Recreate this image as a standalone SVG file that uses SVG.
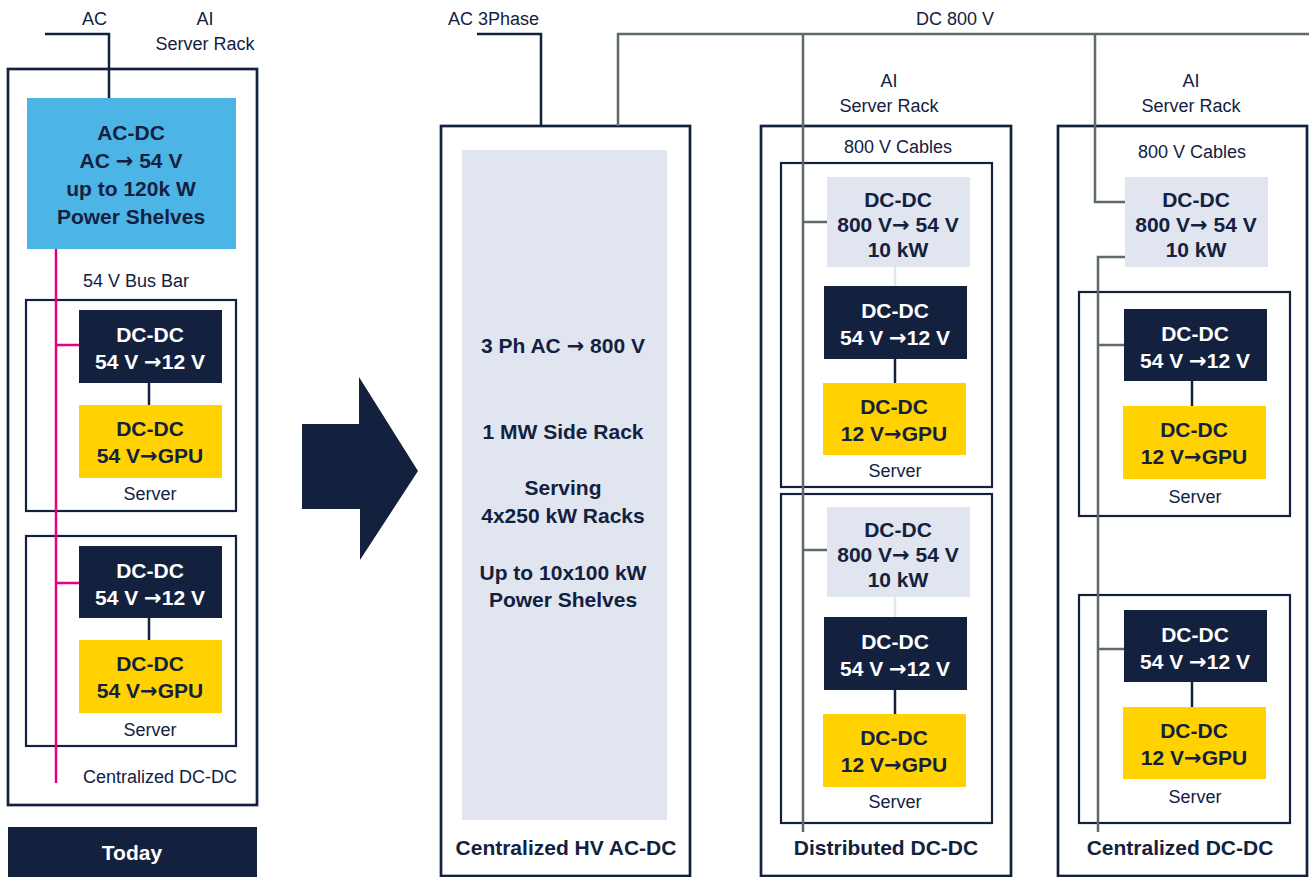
<svg xmlns="http://www.w3.org/2000/svg" width="1311" height="877" viewBox="0 0 1311 877">
<style>
text{font-family:"Liberation Sans",Arial,sans-serif;fill:#13213F;}
.lbl{font-size:18px;text-anchor:middle;}
.lbs{font-size:18px;}
.b{font-size:21px;font-weight:bold;text-anchor:middle;}
.ar{font-family:"DejaVu Sans",sans-serif;font-size:21px;font-weight:bold;}
.w{fill:#FFFFFF;}
.frame{fill:none;stroke:#13213F;stroke-width:2.7;}
.srv{fill:none;stroke:#13213F;stroke-width:2.2;}
.navy{fill:#13213F;}
.yel{fill:#FFD200;}
.lt{fill:#E1E5EF;}
.blue{fill:#4DB4E6;}
.wire{fill:none;stroke:#13213F;stroke-width:2.5;}
.gw{fill:none;stroke:#5E6A6B;stroke-width:2.5;}
.pk{fill:none;stroke:#E5007E;stroke-width:2.5;}
.ltw{fill:none;stroke:#E1E5EF;stroke-width:2.5;}
</style>

<!-- ===== Left panel: Today ===== -->
<g id="left-rack">
<rect class="frame" x="8" y="69" width="249" height="736"/>
<text class="lbs" x="82" y="25">AC</text>
<text class="lbl" x="205" y="25">AI</text>
<text class="lbl" x="205" y="50">Server Rack</text>
<text class="lbl" x="136" y="287">54 V Bus Bar</text>
<text class="lbl" x="160" y="783">Centralized DC-DC</text>
</g>
<g id="left-acdc">
<rect class="blue" x="27" y="98" width="209" height="151"/>
<text class="b" x="131" y="140">AC-DC</text>
<text class="b" x="131" y="168">AC <tspan class="ar">→</tspan> 54 V</text>
<text class="b" x="131" y="196">up to 120k W</text>
<text class="b" x="131" y="224">Power Shelves</text>
</g>
<g id="left-server1">
<rect class="srv" x="26" y="300" width="210" height="211"/>
<rect class="navy" x="79" y="310" width="143" height="73"/>
<text class="b w" x="150" y="342">DC-DC</text>
<text class="b w" x="150" y="369">54 V <tspan class="ar w">→</tspan>12 V</text>
<rect class="yel" x="79" y="405" width="143" height="73"/>
<text class="b" x="150" y="436">DC-DC</text>
<text class="b" x="150" y="463">54 V<tspan class="ar">→</tspan>GPU</text>
<text class="lbl" x="150" y="500">Server</text>
</g>
<g id="left-server2">
<rect class="srv" x="26" y="536" width="210" height="210"/>
<rect class="navy" x="79" y="546" width="143" height="72"/>
<text class="b w" x="150" y="578">DC-DC</text>
<text class="b w" x="150" y="605">54 V <tspan class="ar w">→</tspan>12 V</text>
<rect class="yel" x="79" y="640" width="143" height="73"/>
<text class="b" x="150" y="671">DC-DC</text>
<text class="b" x="150" y="698">54 V<tspan class="ar">→</tspan>GPU</text>
<text class="lbl" x="150" y="736">Server</text>
</g>
<g id="today">
<rect class="navy" x="8" y="827" width="249" height="50"/>
<text class="b w" x="132" y="860">Today</text>
</g>

<!-- ===== Transition arrow ===== -->
<g id="big-arrow">
<polygon class="navy" points="302,424 359,424 359,377 418,471 360,560 360,509 302,509"/>
</g>

<!-- ===== Middle: Centralized HV AC-DC ===== -->
<g id="hv-acdc">
<rect class="frame" x="441" y="126" width="249" height="750"/>
<rect class="lt" x="462" y="150" width="205" height="670"/>
<text class="lbs" x="448" y="25">AC 3Phase</text>
<text class="b" x="563" y="353">3 Ph AC <tspan class="ar">→</tspan> 800 V</text>
<text class="b" x="563" y="439">1 MW Side Rack</text>
<text class="b" x="563" y="495">Serving</text>
<text class="b" x="563" y="523">4x250 kW Racks</text>
<text class="b" x="563" y="580">Up to 10x100 kW</text>
<text class="b" x="563" y="607">Power Shelves</text>
<text class="b" x="566" y="855">Centralized HV AC-DC</text>
</g>

<!-- ===== Distributed DC-DC rack ===== -->
<g id="dist-rack">
<rect class="frame" x="761" y="126" width="250" height="750"/>
<text class="lbl" x="889" y="87">AI</text>
<text class="lbl" x="889" y="112">Server Rack</text>
<text class="lbl" x="898" y="153">800 V Cables</text>
<text class="b" x="886" y="855">Distributed DC-DC</text>
</g>
<g id="dist-server1">
<rect class="srv" x="781" y="163" width="211" height="324"/>
<rect class="lt" x="827" y="177" width="143" height="90"/>
<text class="b" x="898" y="207">DC-DC</text>
<text class="b" x="898" y="232">800 V<tspan class="ar">→</tspan> 54 V</text>
<text class="b" x="898" y="257">10 kW</text>
<rect class="navy" x="824" y="286" width="143" height="73"/>
<text class="b w" x="895" y="318">DC-DC</text>
<text class="b w" x="895" y="345">54 V <tspan class="ar w">→</tspan>12 V</text>
<rect class="yel" x="823" y="383" width="143" height="72"/>
<text class="b" x="894" y="414">DC-DC</text>
<text class="b" x="894" y="441">12 V<tspan class="ar">→</tspan>GPU</text>
<text class="lbl" x="895" y="477">Server</text>
</g>
<g id="dist-server2">
<rect class="srv" x="781" y="494" width="211" height="329"/>
<rect class="lt" x="827" y="507" width="143" height="90"/>
<text class="b" x="898" y="537">DC-DC</text>
<text class="b" x="898" y="562">800 V<tspan class="ar">→</tspan> 54 V</text>
<text class="b" x="898" y="587">10 kW</text>
<rect class="navy" x="824" y="617" width="143" height="73"/>
<text class="b w" x="895" y="649">DC-DC</text>
<text class="b w" x="895" y="676">54 V <tspan class="ar w">→</tspan>12 V</text>
<rect class="yel" x="823" y="714" width="143" height="73"/>
<text class="b" x="894" y="745">DC-DC</text>
<text class="b" x="894" y="772">12 V<tspan class="ar">→</tspan>GPU</text>
<text class="lbl" x="895" y="808">Server</text>
</g>

<!-- ===== Centralized DC-DC rack ===== -->
<g id="cent-rack">
<rect class="frame" x="1058" y="126" width="249" height="750"/>
<text class="lbl" x="1191" y="87">AI</text>
<text class="lbl" x="1191" y="112">Server Rack</text>
<text class="lbl" x="1192" y="158">800 V Cables</text>
<text class="b" x="1180" y="855">Centralized DC-DC</text>
</g>
<g id="cent-dcdc">
<rect class="lt" x="1125" y="177" width="143" height="90"/>
<text class="b" x="1196" y="207">DC-DC</text>
<text class="b" x="1196" y="232">800 V<tspan class="ar">→</tspan> 54 V</text>
<text class="b" x="1196" y="257">10 kW</text>
</g>
<g id="cent-server1">
<rect class="srv" x="1079" y="292" width="211" height="224"/>
<rect class="navy" x="1124" y="309" width="143" height="72"/>
<text class="b w" x="1195" y="341">DC-DC</text>
<text class="b w" x="1195" y="368">54 V <tspan class="ar w">→</tspan>12 V</text>
<rect class="yel" x="1123" y="406" width="143" height="73"/>
<text class="b" x="1194" y="437">DC-DC</text>
<text class="b" x="1194" y="464">12 V<tspan class="ar">→</tspan>GPU</text>
<text class="lbl" x="1195" y="503">Server</text>
</g>
<g id="cent-server2">
<rect class="srv" x="1079" y="595" width="211" height="228"/>
<rect class="navy" x="1124" y="610" width="143" height="72"/>
<text class="b w" x="1195" y="642">DC-DC</text>
<text class="b w" x="1195" y="669">54 V <tspan class="ar w">→</tspan>12 V</text>
<rect class="yel" x="1123" y="707" width="143" height="72"/>
<text class="b" x="1194" y="738">DC-DC</text>
<text class="b" x="1194" y="765">12 V<tspan class="ar">→</tspan>GPU</text>
<text class="lbl" x="1195" y="803">Server</text>
</g>

<!-- ===== Connectors ===== -->
<g id="connectors">
<path class="wire" d="M45,34 H109 V98"/>
<path class="pk" d="M56,249 V783"/>
<path class="pk" d="M56,345 H79"/>
<path class="pk" d="M56,583 H79"/>
<path class="wire" d="M149,383 V405"/>
<path class="wire" d="M149,618 V640"/>

<path class="wire" d="M477,34 H541 V126"/>
<path class="gw" d="M618,126 V34 H1309"/>
<text class="lbl" x="955" y="25">DC 800 V</text>

<path class="gw" d="M803,34 V832"/>
<path class="gw" d="M803,222 H827"/>
<path class="gw" d="M803,550 H827"/>
<path class="ltw" d="M895,267 V286"/>
<path class="ltw" d="M895,597 V617"/>
<path class="wire" d="M895,359 V383"/>
<path class="wire" d="M895,690 V714"/>

<path class="gw" d="M1095,34 V202 H1125"/>
<path class="gw" d="M1125,257 H1098 V832"/>
<path class="gw" d="M1098,345 H1124"/>
<path class="gw" d="M1098,649 H1124"/>
<path class="wire" d="M1192,381 V406"/>
<path class="wire" d="M1192,682 V707"/>
</g>
</svg>
